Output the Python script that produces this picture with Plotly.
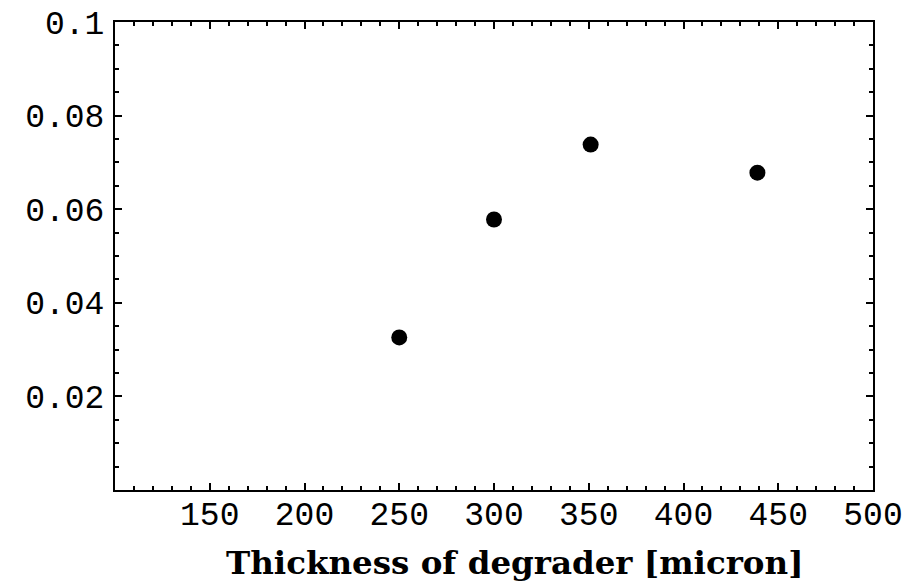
import plotly.graph_objects as go

thickness = [250, 300, 351, 439]
values = [0.0326, 0.0578, 0.0738, 0.0678]

x_tickvals = [150, 200, 250, 300, 350, 400, 450, 500]
x_ticktext = ["150", "200", "250", "300", "350", "400", "450", "500"]
y_tickvals = [0.02, 0.04, 0.06, 0.08, 0.1]
y_ticktext = ["0.02", "0.04", "0.06", "0.08", "0.1"]
x_title = "Thickness of degrader [micron]"

fig = go.Figure()
fig.add_trace(go.Scatter(
    x=thickness, y=values, mode="markers",
    marker=dict(color="black", size=16),
    showlegend=False,
))

tickfont = dict(family="Liberation Mono", size=33, color="black")
fig.update_xaxes(
    range=[100, 500], tickvals=x_tickvals, ticktext=x_ticktext,
    ticks="inside", ticklen=7, tickwidth=2, tickcolor="black",
    minor=dict(dtick=10, tick0=100, ticks="inside", ticklen=4, tickwidth=2, tickcolor="black"),
    showline=True, linewidth=2, linecolor="black", mirror="ticks",
    showgrid=False, zeroline=False, tickfont=tickfont, automargin=False,
    ticklabelstandoff=-7, ticklabeloverflow="allow",
)
fig.update_yaxes(
    range=[0, 0.1], tickvals=y_tickvals, ticktext=y_ticktext,
    ticks="inside", ticklen=7, tickwidth=2, tickcolor="black",
    minor=dict(dtick=0.005, tick0=0, ticks="inside", ticklen=4, tickwidth=2, tickcolor="black"),
    showline=True, linewidth=2, linecolor="black", mirror="ticks",
    showgrid=False, zeroline=False, tickfont=tickfont, automargin=False,
    ticklabelstandoff=2, ticklabeloverflow="allow",
)
fig.add_annotation(
    text=x_title, xref="paper", yref="paper", x=0.528, y=0,
    xanchor="center", yanchor="top", yshift=-51, showarrow=False,
    font=dict(family="DejaVu Serif", size=32.5, color="black", weight="bold"),
)
fig.update_layout(
    width=903, height=574,
    margin=dict(l=107, r=38, t=14, b=92),
    paper_bgcolor="white", plot_bgcolor="white",
)
fig.write_html("out.html")
